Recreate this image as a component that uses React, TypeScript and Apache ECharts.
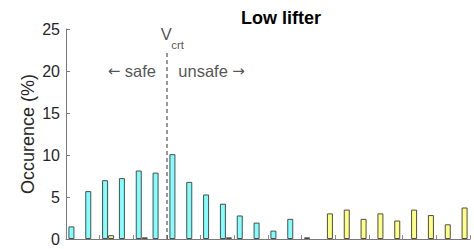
import React, { useEffect, useRef } from "react";
import * as echarts from "echarts";

const categories = Array.from({ length: 24 }, (_, i) => String(i + 1));
const safeSeries = [1.5, 5.7, 7.0, 7.25, 8.15, 7.9, 10.1, 6.8, 5.3, 4.2, 2.8, 1.95, 1.0, 2.4, 0.2, 0, 0, 0, 0, 0, 0, 0, 0, 0];
const lowSeries = [0, 0, 0.45, 0, 0.2, 0, 0, 0, 0, 0.2, 0, 0, 0, 0, 0, 3.05, 3.5, 2.4, 3.05, 2.2, 3.5, 2.85, 1.75, 3.75];
const yTicks = [0, 5, 10, 15, 20, 25];
const vcrtPosition = 6;
const vcrtTop = 22.3;
const FONT = "'Liberation Sans', Arial, Helvetica, sans-serif";

export default function App() {
  const ref = useRef<HTMLDivElement>(null);
  useEffect(() => {
    if (!ref.current) return;
    const chart = echarts.init(ref.current, null, { renderer: "svg" });
    const nz = (a: number[]) => a.map((v) => (v === 0 ? "-" : v));
    const rich = {
      ar: { fontFamily: "'DejaVu Sans', sans-serif", fontSize: 15, color: "#262626" },
      t: { fontFamily: FONT, fontSize: 16.5, color: "#262626" },
    };
    chart.setOption({
      animation: false,
      backgroundColor: "#ffffff",
      textStyle: { fontFamily: FONT },
      title: {
        text: "Low lifter",
        left: 236,
        top: 4,
        textStyle: { fontFamily: FONT, fontSize: 18, fontWeight: "bold", color: "#000" },
      },
      grid: { left: 66, right: 4, top: 29, bottom: 10, containLabel: false },
      xAxis: [
        {
          type: "category",
          data: categories,
          boundaryGap: true,
          axisLine: { show: true, lineStyle: { color: "#7a7a7a", width: 1 } },
          axisTick: { show: true, inside: true, length: 4, interval: 1, lineStyle: { color: "#8a8a8a" } },
          axisLabel: { show: false },
          splitLine: { show: false },
        },
        { type: "value", min: 0, max: 24, show: false },
      ],
      yAxis: {
        type: "value",
        min: yTicks[0],
        max: yTicks[yTicks.length - 1],
        interval: 5,
        name: "Occurence (%)",
        nameLocation: "middle",
        nameGap: 29,
        nameMoveOverlap: false,
        nameTextStyle: { fontFamily: FONT, fontSize: 18, color: "#262626" },
        axisLine: { show: true, lineStyle: { color: "#7a7a7a", width: 1 } },
        axisTick: { show: true, inside: true, length: 4, lineStyle: { color: "#7a7a7a" } },
        axisLabel: { fontFamily: FONT, fontSize: 16, color: "#262626", margin: 6 },
        splitLine: { show: false },
      },
      series: [
        {
          type: "bar",
          data: nz(safeSeries),
          barWidth: 6,
          barGap: "0%",
          itemStyle: { color: "#80ffff", borderColor: "#4d4d4d", borderWidth: 1 },
        },
        {
          type: "bar",
          data: nz(lowSeries),
          barWidth: 6,
          barGap: "0%",
          itemStyle: { color: "#ffff80", borderColor: "#4d4d4d", borderWidth: 1 },
        },
        {
          type: "line",
          xAxisIndex: 1,
          data: [
            [vcrtPosition, 0],
            [vcrtPosition, vcrtTop],
          ],
          symbol: "none",
          silent: true,
          lineStyle: { color: "#333", width: 1, type: [4, 3] },
        },
        {
          type: "scatter",
          xAxisIndex: 1,
          symbolSize: 0,
          silent: true,
          data: [
            { value: [5.34, 20], label: { position: "left", formatter: "{ar|←} {t|safe}", rich } },
            { value: [6.67, 20], label: { position: "right", formatter: "{t|unsafe} {ar|→}", rich } },
            { value: [5.63, 24.4], label: { position: "right", formatter: "V", fontSize: 16.5 } },
            { value: [6.25, 23.05], label: { position: "right", formatter: "crt", fontSize: 11.5 } },
          ],
          label: {
            show: true,
            distance: 0,
            fontFamily: FONT,
            fontSize: 16,
            color: "#262626",
          },
        },
      ],
    });
    return () => chart.dispose();
  }, []);
  return (
    <div
      ref={ref}
      style={{ position: "fixed", left: 0, top: 0, width: 474, height: 249, background: "#fff" }}
    />
  );
}
